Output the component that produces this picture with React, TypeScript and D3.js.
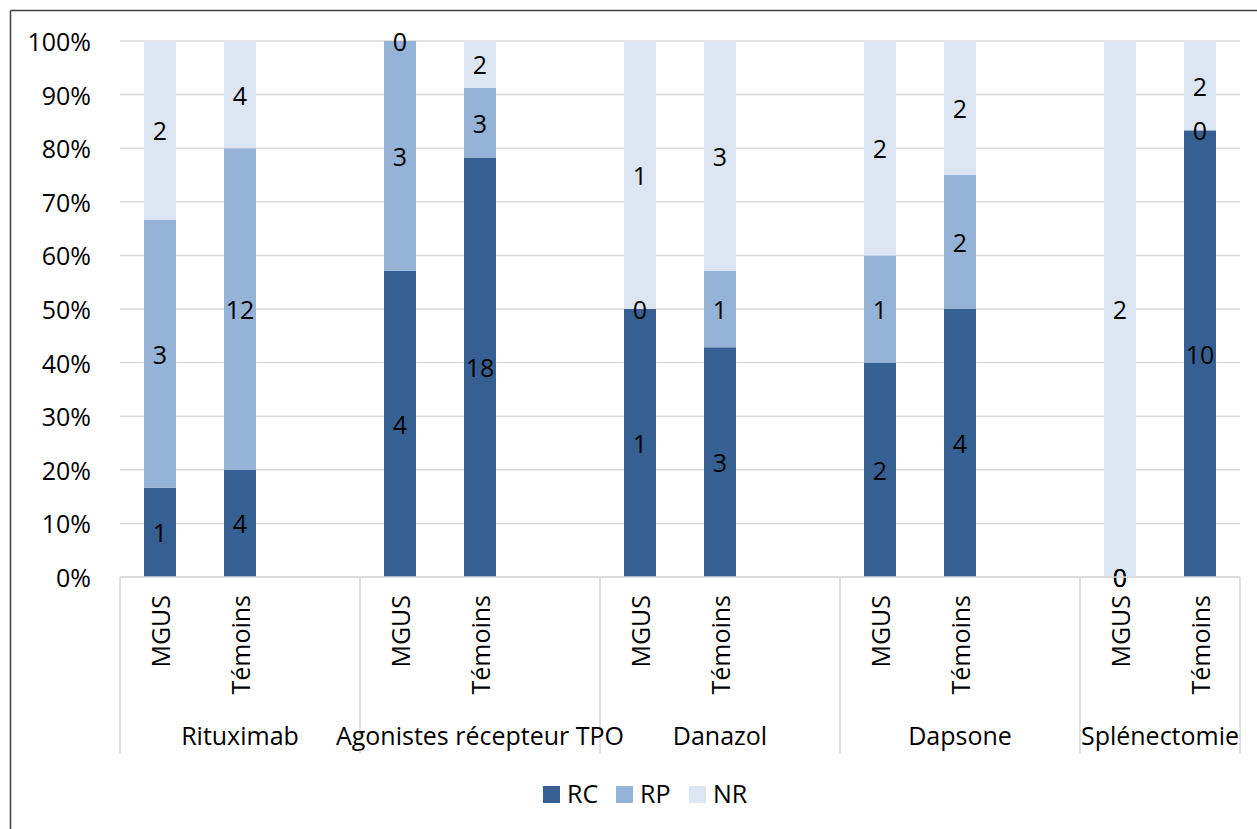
import React from 'react';
import * as d3 from 'd3';

const groups = ['Rituximab', 'Agonistes récepteur TPO', 'Danazol', 'Dapsone', 'Splénectomie'];
const subgroups = ['MGUS', 'Témoins'];
const seriesNames = ['RC', 'RP', 'NR'];
const rc = [1, 4, 4, 18, 1, 3, 2, 4, 0, 10];
const rp = [3, 12, 3, 3, 0, 1, 1, 2, 0, 0];
const nr = [2, 4, 0, 2, 1, 3, 2, 2, 2, 2];
const yTicks = [0, 0.1, 0.2, 0.3, 0.4, 0.5, 0.6, 0.7, 0.8, 0.9, 1];

const colors: Record<string, string> = { RC: '#376092', RP: '#95b3d7', NR: '#dce6f2' };

const W = 1257;
const H = 829;
const margin = { top: 41, left: 120, right: 1240, bottom: 577 };
const font = "'Open Sans', sans-serif";
const fs = 25;

type Row = { key: string; group: number; sub: string; RC: number; RP: number; NR: number };

// one slot per bar, plus an empty slot after every group but the last
const rows: Row[] = [];
const slots: string[] = [];
groups.forEach((g, gi) => {
  subgroups.forEach((s, si) => {
    const i = gi * 2 + si;
    const key = `${gi}-${s}`;
    rows.push({ key, group: gi, sub: s, RC: rc[i], RP: rp[i], NR: nr[i] });
    slots.push(key);
  });
  if (gi < groups.length - 1) slots.push(`${gi}-gap`);
});

export default function App() {
  const x = d3.scaleBand<string>().domain(slots).range([margin.left, margin.right]).paddingInner(0.6).paddingOuter(0.3);
  const y = d3.scaleLinear().domain([0, 1]).range([margin.bottom, margin.top]);
  const step = x.step();
  const stack = d3.stack<Row>().keys(seriesNames).offset(d3.stackOffsetExpand);
  const layers = stack(rows);

  // group spans
  const spans = groups.map((g, gi) => {
    const keys = slots.filter((k) => k.startsWith(`${gi}-`));
    const x0 = (x(keys[0]) as number) - (step - x.bandwidth()) / 2;
    const x1 = x0 + keys.length * step;
    return { g, x0, x1 };
  });
  const sepXs = [spans[0].x0, ...spans.map((s) => s.x1)];
  const catBottom = 754;

  const legendX = [543, 616, 689];

  return (
    <div style={{ position: 'absolute', left: 0, top: 0 }}>
      <svg width={W} height={H} style={{ display: 'block', background: '#fff' }} fontFamily={font}>
        <line x1={10.5} y1={10.5} x2={W} y2={10.5} stroke="#404040" strokeWidth={1.5} />
        <line x1={10.5} y1={10.5} x2={10.5} y2={H} stroke="#404040" strokeWidth={1.5} />

        {/* gridlines */}
        {yTicks.map((t) => (
          <line key={t} x1={margin.left} x2={margin.right} y1={y(t)} y2={y(t)} stroke="#d9d9d9" strokeWidth={1.5} />
        ))}
        {yTicks.map((t) => (
          <text key={`l${t}`} x={91} y={y(t)} textAnchor="end" dominantBaseline="central" fontSize={fs} fill="#000">
            {`${Math.round(t * 100)}%`}
          </text>
        ))}

        {/* bars */}
        {layers.map((layer) => (
          <g key={layer.key} fill={colors[layer.key]}>
            {layer.map((d) => (
              <rect key={d.data.key} x={x(d.data.key)} width={x.bandwidth()} y={y(d[1])} height={y(d[0]) - y(d[1])} />
            ))}
          </g>
        ))}

        {/* data labels */}
        {layers.map((layer) => (
          <g key={`t${layer.key}`}>
            {layer.map((d) => (
              <text
                key={d.data.key}
                x={(x(d.data.key) as number) + x.bandwidth() / 2}
                y={y((d[0] + d[1]) / 2)}
                textAnchor="middle"
                dominantBaseline="central"
                fontSize={fs}
                fill="#000"
              >
                {(d.data as any)[layer.key]}
              </text>
            ))}
          </g>
        ))}

        {/* category axis */}
        <line x1={margin.left} x2={margin.right} y1={margin.bottom} y2={margin.bottom} stroke="#d9d9d9" strokeWidth={1.5} />
        {sepXs.map((sx, i) => (
          <line key={i} x1={sx} x2={sx} y1={margin.bottom} y2={catBottom} stroke="#d9d9d9" strokeWidth={1.5} />
        ))}
        {rows.map((r) => {
          const cx = (x(r.key) as number) + x.bandwidth() / 2;
          return (
            <text
              key={r.key}
              transform={`translate(${cx},595) rotate(-90)`}
              textAnchor="end"
              dominantBaseline="central"
              fontSize={fs}
              fill="#000"
            >
              {r.sub}
            </text>
          );
        })}
        {spans.map((s) => (
          <text key={s.g} x={(s.x0 + s.x1) / 2} y={745} textAnchor="middle" fontSize={fs} fill="#000">
            {s.g}
          </text>
        ))}

        {/* legend */}
        {seriesNames.map((n, i) => (
          <g key={n}>
            <rect x={legendX[i]} y={786} width={17} height={17} fill={colors[n]} />
            <text x={legendX[i] + 24} y={803} fontSize={fs} fill="#000">
              {n}
            </text>
          </g>
        ))}
      </svg>
    </div>
  );
}
